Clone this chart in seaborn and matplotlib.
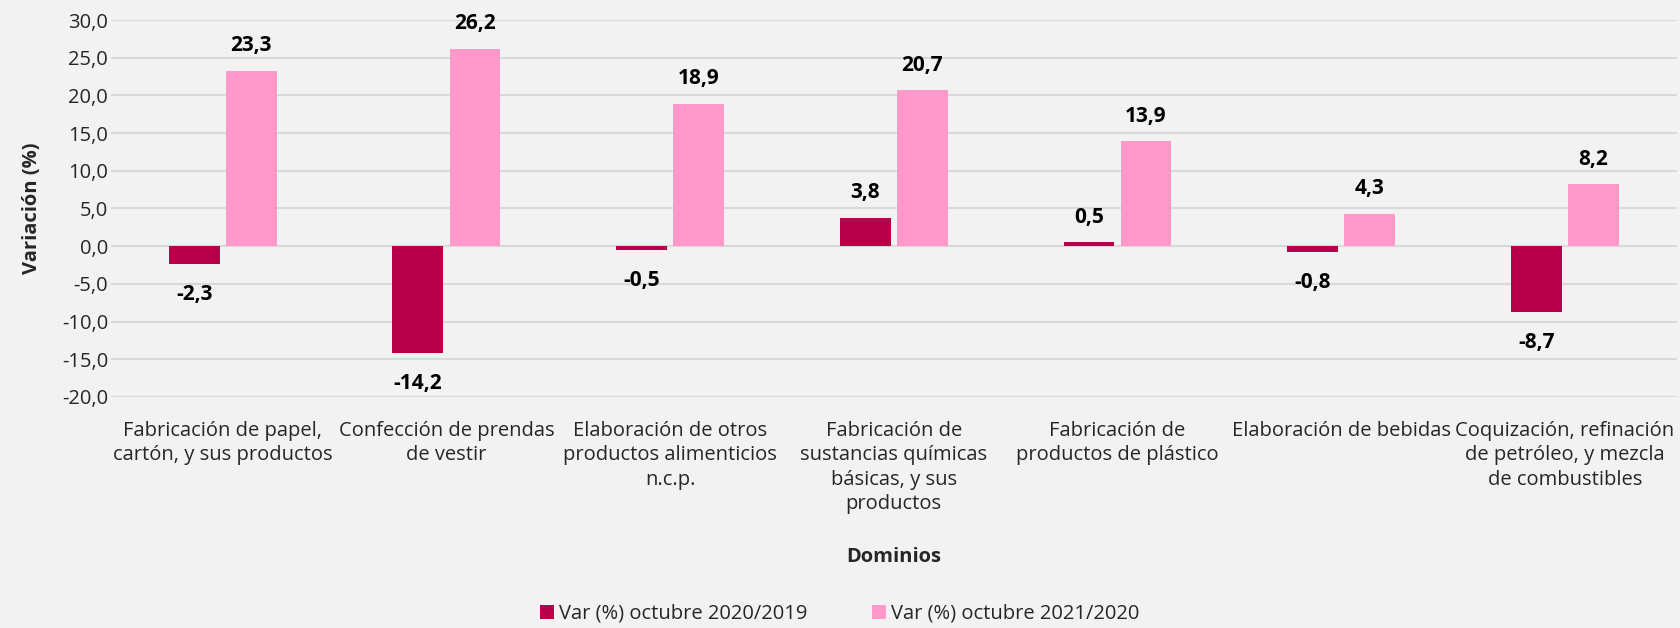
import pandas as pd
import matplotlib.pyplot as plt
import seaborn as sns

categorias = [
    "Fabricación de papel,\ncartón, y sus productos",
    "Confección de prendas\nde vestir",
    "Elaboración de otros\nproductos alimenticios\nn.c.p.",
    "Fabricación de\nsustancias químicas\nbásicas, y sus\nproductos",
    "Fabricación de\nproductos de plástico",
    "Elaboración de bebidas",
    "Coquización, refinación\nde petróleo, y mezcla\nde combustibles",
]
var_2020 = [-2.3, -14.2, -0.5, 3.8, 0.5, -0.8, -8.7]
var_2021 = [23.3, 26.2, 18.9, 20.7, 13.9, 4.3, 8.2]
series = ["Var (%) octubre 2020/2019", "Var (%) octubre 2021/2020"]
colores = ["#B8004A", "#FF99CA"]

df = pd.DataFrame({
    "cat": categorias * 2,
    "val": var_2020 + var_2021,
    "serie": [series[0]] * len(categorias) + [series[1]] * len(categorias),
})

sns.set_style("white")
plt.rcParams['font.family'] = ['Open Sans', 'DejaVu Sans']
bg = "#F2F2F2"
fs = 14.5

fig = plt.figure(figsize=(16.8, 6.28), dpi=100, facecolor=bg)
ax = fig.add_axes([0.066, 0.368, 0.932, 0.600], facecolor=bg)

sns.barplot(data=df, x="cat", y="val", hue="serie", palette=colores,
            width=0.51, gap=0.11, ax=ax, saturation=1, legend=True, linewidth=0)

ax.set_ylim(-20, 30)
ax.set_yticks(range(-20, 31, 5))
ax.set_yticklabels([f"{v:.1f}".replace(".", ",") for v in range(-20, 31, 5)], fontsize=fs)
ax.tick_params(axis="x", labelsize=fs, length=0, pad=17)
ax.tick_params(axis="y", length=0, pad=2)
for t in ax.get_xticklabels():
    t.set_linespacing(1.3)
ax.grid(axis="y", color="#D9D9D9", linewidth=1.5)
ax.set_axisbelow(True)
for s in ax.spines.values():
    s.set_visible(False)

ax.set_ylabel("Variación (%)", fontsize=fs, fontweight="bold", labelpad=14)
ax.set_xlabel("Dominios", fontsize=fs, fontweight="bold", labelpad=24)

for cont in ax.containers:
    for bar in cont:
        h = bar.get_height()
        x = bar.get_x() + bar.get_width() / 2
        off = 18 if h >= 0 else -22
        ax.annotate(f"{h:.1f}".replace(".", ","), (x, h), xytext=(0, off),
                    textcoords="offset points", ha="center", va="center",
                    fontsize=15, fontweight="bold", color="black")

handles, labels = ax.get_legend_handles_labels()
ax.legend(handles, labels, loc="lower center", bbox_to_anchor=(0.5, -0.022),
          bbox_transform=fig.transFigure, ncol=2, frameon=False, fontsize=fs,
          handlelength=0.7, handleheight=0.7, handletextpad=0.25, columnspacing=3.2)

fig.savefig("out.png", dpi=100, facecolor=bg)
